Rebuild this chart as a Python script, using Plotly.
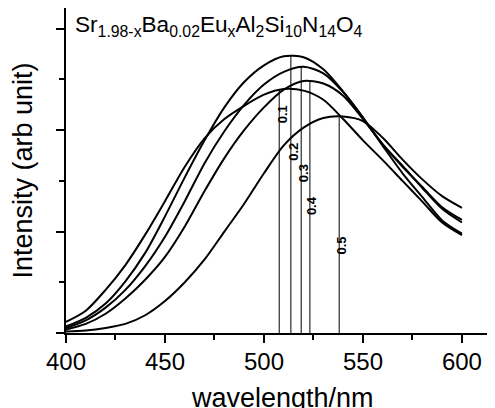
import plotly.graph_objects as go

# wavelength grid (nm)
wavelength = [400, 410, 420, 430, 440, 450, 460, 470, 480, 490, 500,
              510, 520, 530, 540, 550, 560, 570, 580, 590, 600]

# emission intensity (arb. unit) for x = 0.1 ... 0.5
x_labels = ["0.1", "0.2", "0.3", "0.4", "0.5"]
int_01 = [0.22, 0.44, 0.85, 1.34, 1.94, 2.60, 3.28, 3.84, 4.22, 4.48, 4.70,
          4.81, 4.78, 4.60, 4.22, 3.80, 3.41, 3.00, 2.59, 2.18, 1.93]
int_02 = [0.13, 0.30, 0.58, 1.02, 1.58, 2.30, 3.07, 3.80, 4.45, 4.95, 5.28,
          5.46, 5.44, 5.20, 4.76, 4.25, 3.69, 3.15, 2.68, 2.22, 1.96]
int_03 = [0.10, 0.25, 0.50, 0.85, 1.32, 1.90, 2.60, 3.35, 3.98, 4.50, 4.90,
          5.15, 5.25, 5.12, 4.75, 4.25, 3.72, 3.30, 2.86, 2.45, 2.18]
int_04 = [0.07, 0.18, 0.38, 0.68, 1.05, 1.50, 2.10, 2.80, 3.45, 4.00, 4.45,
          4.80, 4.97, 4.92, 4.68, 4.22, 3.72, 3.28, 2.88, 2.48, 2.23]
int_05 = [0.03, 0.05, 0.10, 0.18, 0.35, 0.63, 1.00, 1.45, 2.00, 2.55, 3.15,
          3.70, 4.05, 4.24, 4.27, 4.18, 3.85, 3.42, 3.03, 2.70, 2.47]
series = [int_01, int_02, int_03, int_04, int_05]

# peak positions (nm) and peak heights
peak_wl = [507.7, 513.6, 518.8, 523.2, 538.0]
peak_val = [4.81, 5.48, 5.25, 4.99, 4.27]
# label anchor positions (nm, intensity)
label_wl = [509.8, 515.1, 519.9, 523.7, 539.3]
label_val = [4.32, 3.57, 3.16, 2.52, 1.72]

FONT = "Liberation Sans, Arial, sans-serif"

fig = go.Figure()
for name, ys in zip(x_labels, series):
    fig.add_trace(go.Scatter(x=wavelength, y=ys, mode="lines", name=name,
                             line=dict(color="black", width=2, shape="spline", smoothing=0.8),
                             showlegend=False, hoverinfo="x+y"))

vx, vy = [], []
for w, v in zip(peak_wl, peak_val):
    vx += [w, w, None]
    vy += [0, v, None]
fig.add_trace(go.Scatter(x=vx, y=vy, mode="lines", line=dict(color="black", width=1),
                         showlegend=False, hoverinfo="skip"))

for lab, w, v in zip(x_labels, label_wl, label_val):
    fig.add_annotation(x=w, y=v, text="<b>" + lab + "</b>", showarrow=False, textangle=-90,
                       font=dict(family=FONT, size=13, color="black"),
                       xanchor="center", yanchor="middle")

fig.add_annotation(x=403.5, y=6.06, xref="x", yref="y",
                   text="Sr<sub>1.98-x</sub>Ba<sub>0.02</sub>Eu<sub>x</sub>Al<sub>2</sub>Si<sub>10</sub>N<sub>14</sub>O<sub>4</sub>",
                   showarrow=False, xanchor="left", yanchor="middle",
                   font=dict(family=FONT, size=22.6, color="black"))

# x-axis title (placed like the original, partly below the page edge)
fig.add_annotation(x=0.5, y=0, xref="paper", yref="paper", text="wavelength/nm",
                   showarrow=False, xanchor="center", yanchor="middle",
                   xshift=2, yshift=-65, font=dict(family=FONT, size=27, color="black"))

# the page body adds an 8px offset, so the figure is sized/margined to compensate
fig.update_layout(
    width=487, height=400,
    margin=dict(l=58, r=0, t=0, b=75),
    paper_bgcolor="white", plot_bgcolor="white",
    font=dict(family=FONT, color="black"),
    xaxis=dict(range=[400, 616.7], tickvals=[400, 450, 500, 550, 600],
               ticks="outside", ticklen=8, tickwidth=2, tickcolor="black",
               minor=dict(ticks="outside", ticklen=5, tickwidth=2, tickcolor="black",
                          tick0=400, dtick=25),
               showline=True, linecolor="black", linewidth=2, showgrid=False, zeroline=False,
               tickfont=dict(size=24, family=FONT), automargin=False, ticklabelstandoff=-2),
    yaxis=dict(range=[0, 6.41], tickvals=[0, 2, 4, 6], showticklabels=False,
               ticks="outside", ticklen=8, tickwidth=2, tickcolor="black",
               minor=dict(ticks="outside", ticklen=5, tickwidth=2, tickcolor="black",
                          tick0=0, dtick=1),
               showline=True, linecolor="black", linewidth=2, showgrid=False, zeroline=False,
               automargin=False,
               title=dict(text="Intensity (arb unit)", font=dict(size=27, family=FONT), standoff=20)),
)

fig.write_html("out.html")
